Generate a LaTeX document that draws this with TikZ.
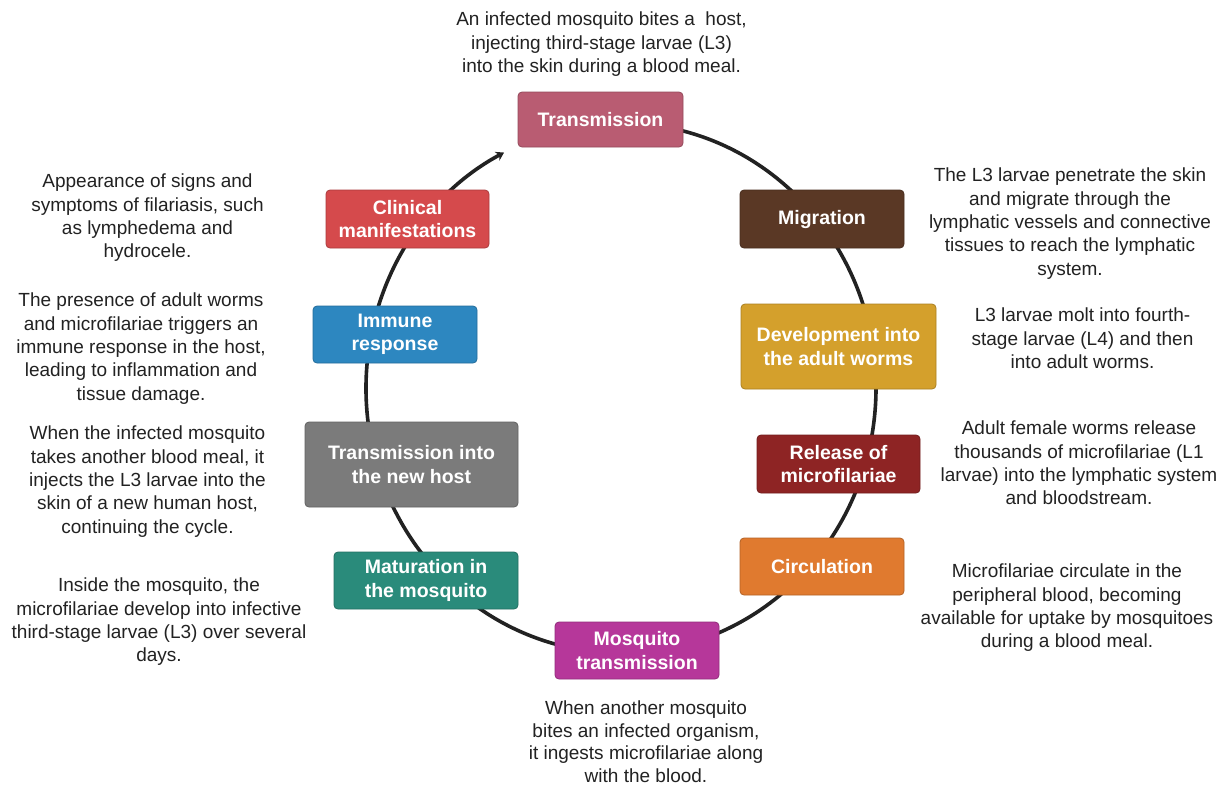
\documentclass[tikz,border=0pt]{standalone}
\usepackage{fontspec}
\setmainfont{Liberation Sans}
\usetikzlibrary{arrows.meta}
\definecolor{ctrans}{HTML}{B95C72}
\definecolor{cmigr}{HTML}{5A3825}
\definecolor{cdev}{HTML}{D4A02C}
\definecolor{crel}{HTML}{8E2424}
\definecolor{ccirc}{HTML}{E07A2F}
\definecolor{cmosq}{HTML}{B6379A}
\definecolor{cmat}{HTML}{2A8B7B}
\definecolor{ctnh}{HTML}{7B7B7B}
\definecolor{cimm}{HTML}{2D87C0}
\definecolor{cclin}{HTML}{D54A4C}
\definecolor{ink}{HTML}{222222}
\begin{document}
\begin{tikzpicture}[x=1pt,y=1pt,
  stage/.style={rounded corners=4pt, text=white, font=\bfseries\fontsize{19.5}{23.5}\selectfont,
    align=center, inner sep=0pt, line width=0.8pt},
  desc/.style={font=\fontsize{19}{23.3}\selectfont, align=center, inner sep=0pt,
    text=ink, anchor=north},
  cycleline/.style={line width=3.6pt, draw=ink, -{Stealth[length=8pt,width=10pt]}}]
\useasboundingbox (0,0) rectangle (1227,-788);
\fill[white] (0,0) rectangle (1227,-788);
\coordinate (c) at (621,-388);
\draw[cycleline] (c) ++(85:255pt and 265pt)
  arc[start angle=85, end angle=-242.7, x radius=255pt, y radius=265pt];
% stages
\node[stage, fill=ctrans, draw=ctrans!80!black, minimum width=165pt, minimum height=55pt] (trans) at (600.5,-119.5) {Transmission};
\node[stage, fill=cmigr, draw=cmigr!80!black, minimum width=164pt, minimum height=58pt] (migr) at (822,-219) {Migration};
\node[stage, fill=cdev, draw=cdev!80!black, minimum width=195pt, minimum height=85pt] (dev) at (838.5,-346.5) {Development into\\the adult worms};
\node[stage, fill=crel, draw=crel!80!black, minimum width=163pt, minimum height=58pt] (rel) at (838.5,-464) {Release of\\microfilariae};
\node[stage, fill=ccirc, draw=ccirc!80!black, minimum width=164pt, minimum height=57pt] (circ) at (822,-566.5) {Circulation};
\node[stage, fill=cmosq, draw=cmosq!80!black, minimum width=164pt, minimum height=57pt] (mosq) at (637,-650.5) {Mosquito\\transmission};
\node[stage, fill=cmat, draw=cmat!80!black, minimum width=184pt, minimum height=57pt] (mat) at (426,-580.5) {Maturation in\\the mosquito};
\node[stage, fill=ctnh, draw=ctnh!80!black, minimum width=213pt, minimum height=85pt] (tnh) at (411.5,-464.5) {Transmission into\\the new host};
\node[stage, fill=cimm, draw=cimm!80!black, minimum width=164pt, minimum height=57pt] (imm) at (395,-334.5) {Immune\\response};
\node[stage, fill=cclin, draw=cclin!80!black, minimum width=163pt, minimum height=58pt] (clin) at (407.5,-219) {Clinical\\manifestations};
% descriptions
\node[desc] (dtrans) at (601.5,-12) {An infected mosquito bites a \ host,\\injecting third-stage larvae (L3)\\into the skin during a blood meal.};
\node[desc] (dmigr) at (1070,-168) {The L3 larvae penetrate the skin\\and migrate through the\\lymphatic vessels and connective\\tissues to reach the lymphatic\\system.};
\node[desc] (ddev) at (1082.5,-308) {L3 larvae molt into fourth-\\stage larvae (L4) and then\\into adult worms.};
\node[desc] (drel) at (1079,-421) {Adult female worms release\\thousands of microfilariae (L1\\larvae) into the lymphatic system\\and bloodstream.};
\node[desc] (dcirc) at (1067,-564) {Microfilariae circulate in the\\peripheral blood, becoming\\available for uptake by mosquitoes\\during a blood meal.};
\node[desc, font=\fontsize{19}{22.5}\selectfont] (dmosq) at (646,-701) {When another mosquito\\bites an infected organism,\\it ingests microfilariae along\\with the blood.};
\node[desc] (dclin) at (147.5,-174) {Appearance of signs and\\symptoms of filariasis, such\\as lymphedema and\\hydrocele.};
\node[desc] (dimm) at (141,-293) {The presence of adult worms\\and microfilariae triggers an\\immune response in the host,\\leading to inflammation and\\tissue damage.};
\node[desc] (dtnh) at (147.5,-426) {When the infected mosquito\\takes another blood meal, it\\injects the L3 larvae into the\\skin of a new human host,\\continuing the cycle.};
\node[desc] (dmat) at (159,-578) {Inside the mosquito, the\\microfilariae develop into infective\\third-stage larvae (L3) over several\\days.};
\end{tikzpicture}
\end{document}
